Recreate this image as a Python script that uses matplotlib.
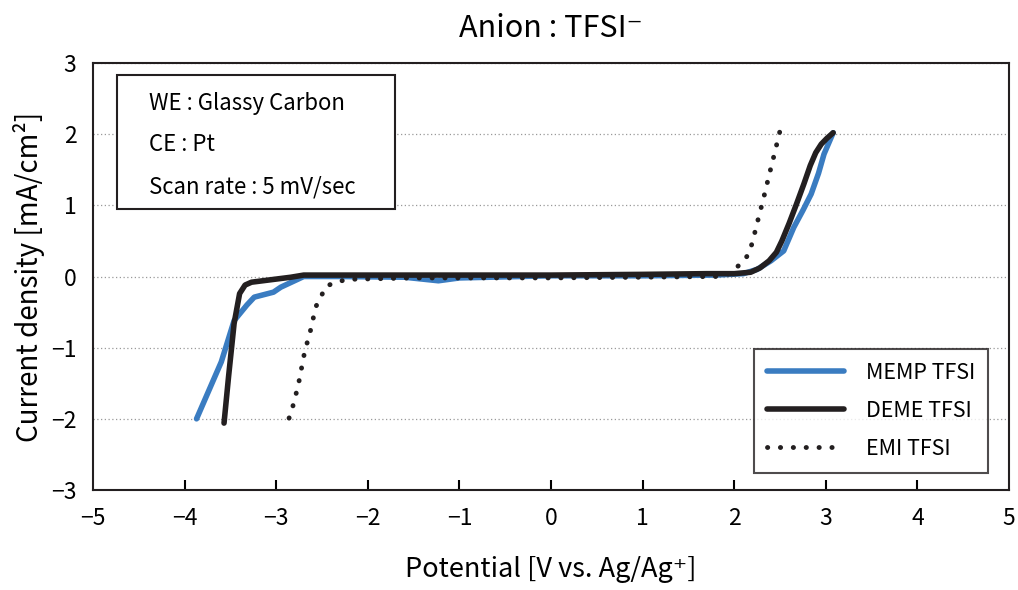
import numpy as np
import matplotlib
matplotlib.use('Agg')
import matplotlib.pyplot as plt
from matplotlib.patches import Rectangle

plt.rcParams['font.family'] = ['Noto Sans CJK JP', 'DejaVu Sans']

# MEMP TFSI (blue)
memp_x = [-3.87, -3.60, -3.46, -3.32, -3.24, -3.03, -2.95, -2.80, -2.70, -2.30, -1.60, -1.23, -1.00, 0.0, 1.0, 1.8, 2.1, 2.25, 2.40, 2.54, 2.65, 2.75, 2.84, 2.92, 2.98, 3.08]
memp_y = [-2.00, -1.20, -0.62, -0.40, -0.29, -0.22, -0.15, -0.06, 0.00, 0.00, -0.01, -0.06, -0.02, 0.01, 0.01, 0.02, 0.04, 0.10, 0.22, 0.36, 0.69, 0.93, 1.16, 1.45, 1.72, 2.02]

# DEME TFSI (black)
deme_x = [-3.57, -3.52, -3.46, -3.40, -3.34, -3.27, -2.84, -2.70, -2.00, -1.00, 0.0, 1.0, 1.7, 2.00, 2.18, 2.28, 2.38, 2.46, 2.52, 2.60, 2.68, 2.76, 2.83, 2.89, 2.95, 3.01, 3.08]
deme_y = [-2.06, -1.40, -0.66, -0.24, -0.12, -0.08, -0.01, 0.02, 0.02, 0.02, 0.02, 0.03, 0.04, 0.04, 0.06, 0.12, 0.22, 0.34, 0.50, 0.75, 1.02, 1.30, 1.56, 1.74, 1.86, 1.94, 2.02]

# EMI TFSI (dotted)
emi_x = [-2.86, -2.82, -2.76, -2.69, -2.62, -2.57, -2.51, -2.46, -2.35, -2.22, -1.5, 0.0, 1.0, 1.80, 1.95, 2.00, 2.09, 2.16, 2.20, 2.26, 2.32, 2.38, 2.44, 2.50]
emi_y = [-1.99, -1.83, -1.53, -1.06, -0.73, -0.43, -0.28, -0.14, -0.08, -0.04, -0.02, -0.02, -0.01, 0.00, 0.04, 0.10, 0.20, 0.32, 0.49, 0.80, 1.10, 1.42, 1.73, 2.05]

xticks = [-5, -4, -3, -2, -1, 0, 1, 2, 3, 4, 5]
yticks = [-3, -2, -1, 0, 1, 2, 3]
info_lines = ['WE : Glassy Carbon', 'CE : Pt', 'Scan rate : 5 mV/sec']

fig = plt.figure(figsize=(10.18, 5.9), dpi=100)
ax = fig.add_axes([0.0914, 0.1695, 0.8998, 0.7237])

ax.plot(memp_x, memp_y, color='#3a7cc1', lw=4, solid_capstyle='round', solid_joinstyle='round', label='MEMP TFSI')
ax.plot(deme_x, deme_y, color='#231f20', lw=4, solid_capstyle='round', solid_joinstyle='round', label='DEME TFSI')
ax.plot(emi_x, emi_y, color='#231f20', lw=3.5, linestyle=(0, (0.05, 2.6)), dash_capstyle='round', label='EMI TFSI')

ax.set_xlim(-5, 5)
ax.set_ylim(-3, 3)
ax.set_xticks(xticks)
ax.set_yticks(yticks)
ax.set_xticklabels(['−%d' % -t if t < 0 else str(t) for t in xticks])
ax.set_yticklabels(['−%d' % -t if t < 0 else str(t) for t in yticks])
ax.tick_params(axis='x', direction='in', length=7, width=1.5, labelsize=16.5, pad=12)
ax.tick_params(axis='y', length=0, labelsize=16.5, pad=12)
ax.xaxis.get_major_ticks()[0].tick1line.set_visible(False)
ax.xaxis.get_major_ticks()[-1].tick1line.set_visible(False)
ax.grid(axis='y', color='#999999', linestyle=(0, (1, 2)), lw=0.9)
for s in ax.spines.values():
    s.set_linewidth(1.5)
    s.set_color('#231f20')

ax.set_xlabel('Potential [V vs. Ag/Ag⁺]', fontsize=19.5, labelpad=19)
ax.set_ylabel('Current density [mA/cm²]', fontsize=20, labelpad=4)
ax.set_title('Anion : TFSI⁻', fontsize=22, pad=19)

ax.add_patch(Rectangle((0.0262, 0.658), 0.3035, 0.314, transform=ax.transAxes,
                       fill=True, facecolor='white', edgecolor='#231f20', lw=1.5, zorder=3))
for yy, s in zip([0.906, 0.808, 0.71], info_lines):
    ax.text(0.061, yy, s, transform=ax.transAxes, fontsize=16, va='center', ha='left', zorder=4)

leg = ax.legend(loc='lower right', bbox_to_anchor=(0.977, 0.04), fontsize=15.5, frameon=True,
                fancybox=False, edgecolor='#231f20', handlelength=3.6, handletextpad=1.0,
                labelspacing=0.75, borderpad=0.6, borderaxespad=0)
leg.get_frame().set_linewidth(1.5)

fig.savefig('out.png', dpi=100)
